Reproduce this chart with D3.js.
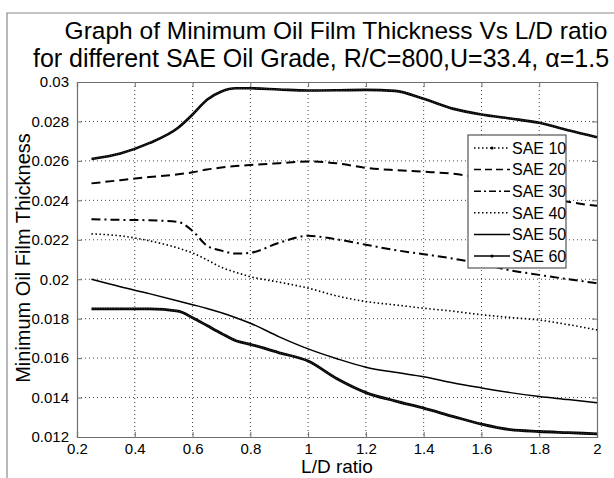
<!DOCTYPE html>
<html><head><meta charset="utf-8">
<script src="https://cdn.jsdelivr.net/npm/d3@7"></script>
<style>
html,body{margin:0;padding:0;background:#fff;}
svg{display:block;font-family:"Liberation Sans",Arial,sans-serif;}
</style></head>
<body><svg id="chart" width="614" height="478"></svg>
<script>
const ldRatio = [0.25,0.35,0.45,0.55,0.6,0.65,0.7,0.75,0.8,0.9,1.0,1.1,1.2,1.3,1.4,1.5,1.6,1.7,1.8,1.9,2.0];
const sae10 = [0.0261,0.02638,0.0269,0.02768,0.02835,0.0291,0.02952,0.02968,0.02968,0.02962,0.02957,0.02958,0.0296,0.02955,0.02915,0.02865,0.02835,0.02815,0.02793,0.02755,0.0272];
const sae20 = [0.02486,0.02502,0.02518,0.02532,0.02542,0.02556,0.02566,0.02574,0.02579,0.02588,0.02597,0.02588,0.02565,0.02553,0.02545,0.02535,0.02512,0.02475,0.0243,0.02393,0.02372];
const sae30 = [0.02304,0.02301,0.02299,0.0229,0.02245,0.0217,0.02145,0.0213,0.02134,0.02185,0.0222,0.02202,0.02175,0.02148,0.02127,0.02105,0.02078,0.02045,0.02022,0.02,0.0198];
const sae40 = [0.0223,0.0222,0.02195,0.02158,0.02133,0.02098,0.0206,0.02035,0.02013,0.01985,0.01955,0.01915,0.01887,0.0187,0.01853,0.01838,0.0182,0.01806,0.01793,0.0177,0.01743];
const sae50 = [0.02,0.01962,0.01927,0.0189,0.01871,0.01852,0.0183,0.01805,0.01777,0.01708,0.01647,0.01597,0.01554,0.01528,0.01506,0.01475,0.01449,0.01425,0.01405,0.0139,0.01374];
const sae60 = [0.0185,0.0185,0.0185,0.01838,0.01805,0.01765,0.01725,0.01688,0.0167,0.01627,0.01585,0.01495,0.01425,0.01383,0.01346,0.01305,0.01265,0.01237,0.01228,0.01222,0.01216];
const seriesNames = ["SAE 10","SAE 20","SAE 30","SAE 40","SAE 50","SAE 60"];
const xTicks = [0.2,0.4,0.6,0.8,1,1.2,1.4,1.6,1.8,2];
const yTicks = [0.012,0.014,0.016,0.018,0.02,0.022,0.024,0.026,0.028,0.03];
const titleLines = ["Graph of Minimum Oil Film Thickness Vs L/D ratio","for different SAE Oil Grade, R/C=800,U=33.4, \u03b1=1.5"];
const xLabel = "L/D ratio";
const yLabel = "Minimum Oil Film Thickness";

const seriesValues = [sae10,sae20,sae30,sae40,sae50,sae60];
const styles = [
  {w:2.6, dash:null, marker:true},
  {w:2, dash:"9,5", marker:false},
  {w:2, dash:"9,4,2,4", marker:false},
  {w:1.6, dash:"1.5,2.5", marker:false},
  {w:1.5, dash:null, marker:false},
  {w:2.8, dash:null, marker:true}
];
const legendDash = [ "1.5,2.5", "7,4", "7,3,2,3", "1.5,2.5", null, null ];

const L = 77, R = 597, T = 82, B = 437;
const svg = d3.select("#chart");
const x = d3.scaleLinear().domain([0.2,2]).range([L,R]);
const y = d3.scaleLinear().domain([0.012,0.03]).range([B,T]);

// outer figure frame
svg.append("path").attr("d",`M7,478 L7,13 L614,13`).attr("fill","none").attr("stroke","#8a8a8a").attr("stroke-width",1.2);

// grid
const g = svg.append("g");
g.selectAll(".gx").data(xTicks.slice(1,-1)).join("line")
  .attr("x1",d=>x(d)).attr("x2",d=>x(d)).attr("y1",T).attr("y2",B)
  .attr("stroke","#444").attr("stroke-width",1).attr("stroke-dasharray","1,3");
g.selectAll(".gy").data(yTicks.slice(1,-1)).join("line")
  .attr("y1",d=>y(d)).attr("y2",d=>y(d)).attr("x1",L).attr("x2",R)
  .attr("stroke","#444").attr("stroke-width",1).attr("stroke-dasharray","1,3");

// axes
const xAxisB = d3.axisBottom(x).tickValues(xTicks).tickSize(-5).tickPadding(9).tickFormat(d3.format("~g"));
const yAxisL = d3.axisLeft(y).tickValues(yTicks).tickSize(-5).tickPadding(8).tickFormat(d3.format("~g"));
const ax = svg.append("g").attr("transform",`translate(0,${B})`).call(xAxisB);
const ay = svg.append("g").attr("transform",`translate(${L},0)`).call(yAxisL);
const axT = svg.append("g").attr("transform",`translate(0,${T})`).call(d3.axisTop(x).tickValues(xTicks).tickSize(-5).tickFormat(""));
const ayR = svg.append("g").attr("transform",`translate(${R},0)`).call(d3.axisRight(y).tickValues(yTicks).tickSize(-5).tickFormat(""));
[ax,ay,axT,ayR].forEach(a=>{
  a.select(".domain").attr("stroke","#6e6e6e").attr("stroke-width",1.2);
  a.selectAll(".tick line").attr("stroke","#6e6e6e");
  a.selectAll("text").attr("fill","#000").style("font-size","15px").style("font-family","Liberation Sans, Arial, sans-serif");
});
ax.selectAll("text").attr("dy","0.5em");

// lines
const line = d3.line().x(d=>x(d[0])).y(d=>y(d[1])).curve(d3.curveMonotoneX);
seriesValues.forEach((vals,i)=>{
  const pts = ldRatio.map((v,j)=>[v,vals[j]]);
  const st = styles[i];
  const p = svg.append("path").datum(pts).attr("d",line).attr("fill","none")
    .attr("stroke","#000").attr("stroke-width",st.w).attr("stroke-linejoin","round");
  if(st.dash) p.attr("stroke-dasharray",st.dash);
  if(st.marker){
    svg.append("path").datum(pts).attr("d",line).attr("fill","none")
      .attr("stroke","#fff").attr("stroke-opacity",0.35).attr("stroke-width",0.8).attr("stroke-dasharray","1,1.5");
  }
});

// legend
const lg = svg.append("g");
const lx = 468, ly = 135, lw = 98, lh = 133;
lg.append("rect").attr("x",lx).attr("y",ly).attr("width",lw).attr("height",lh)
  .attr("fill","#fff").attr("stroke","#555").attr("stroke-width",1.2);
seriesNames.forEach((name,i)=>{
  const cy = 148 + i*21.6;
  const l = lg.append("line").attr("x1",lx+6).attr("x2",lx+42).attr("y1",cy).attr("y2",cy)
    .attr("stroke","#000").attr("stroke-width",i===3?1.4:1.5);
  if(legendDash[i]) l.attr("stroke-dasharray",legendDash[i]);
  if(styles[i].marker){
    lg.append("circle").attr("cx",lx+24).attr("cy",cy).attr("r",1.6).attr("fill","#000");
  }
  lg.append("text").attr("x",lx+44).attr("y",cy).attr("dy","0.36em")
    .style("font-size","16px").text(name);
});

// titles
svg.append("text").attr("x",336).attr("y",39).attr("text-anchor","middle").style("font-size","24.5px").text(titleLines[0]);
svg.append("text").attr("x",321).attr("y",67).attr("text-anchor","middle").style("font-size","25px").text(titleLines[1]);
svg.append("text").attr("x",337).attr("y",473).attr("text-anchor","middle").style("font-size","19px").text(xLabel);
svg.append("text").attr("transform","translate(30,258) rotate(-90)").attr("text-anchor","middle").style("font-size","20px").text(yLabel);
</script></body></html>
